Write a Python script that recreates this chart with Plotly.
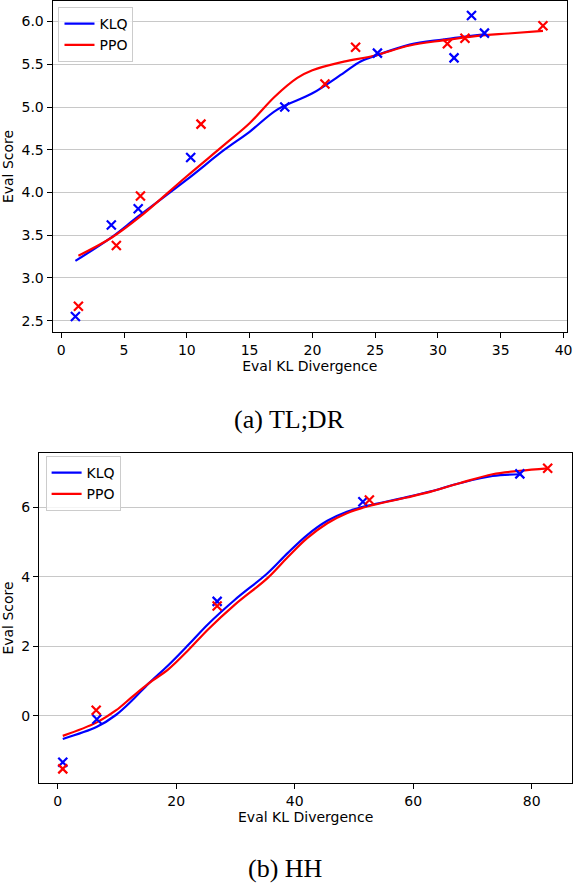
import plotly.graph_objects as go

# (a) TL;DR - evaluation points
tldr_klq_kl = [1.13, 3.99, 6.13, 10.31, 17.8, 25.18, 31.28, 32.67, 33.7]
tldr_klq_score = [2.55, 3.62, 3.81, 4.41, 5.0, 5.63, 5.575, 6.07, 5.864]
tldr_ppo_kl = [1.37, 4.39, 6.31, 11.13, 21.0, 23.44, 30.75, 32.15, 38.36]
tldr_ppo_score = [2.67, 3.38, 3.96, 4.80, 5.27, 5.70, 5.74, 5.805, 5.95]

# (a) TL;DR - fitted curves
tldr_klq_fit_kl = [1.13, 4.0, 6.13, 10.0, 13.0, 15.0, 17.2, 20.0, 22.5, 23.8, 25.2, 27.75, 30.4, 33.7]
tldr_klq_fit = [3.20, 3.475, 3.72, 4.15, 4.50, 4.71, 4.97, 5.16, 5.40, 5.53, 5.61, 5.73, 5.79, 5.85]
tldr_ppo_fit_kl = [1.37, 4.0, 6.3, 10.0, 13.0, 15.0, 17.0, 18.8, 20.0, 22.5, 24.9, 27.75, 30.4, 33.0, 35.6, 38.36]
tldr_ppo_fit = [3.26, 3.47, 3.72, 4.19, 4.56, 4.81, 5.12, 5.34, 5.43, 5.53, 5.60, 5.72, 5.78, 5.83, 5.86, 5.89]

# (b) HH - evaluation points
hh_klq_kl = [0.84, 6.59, 26.9, 51.5, 78.0]
hh_klq_score = [-1.34, -0.10, 3.29, 6.16, 6.96]
hh_ppo_kl = [0.84, 6.48, 26.9, 52.6, 82.7]
hh_ppo_score = [-1.53, 0.155, 3.16, 6.21, 7.12]

# (b) HH - fitted curves
hh_klq_fit_kl = [0.84, 6.6, 9.8, 12.6, 15.35, 18.7, 22.05, 25.4, 29.85, 35.4, 38.8, 42.1, 45.5, 48.8, 52.2, 58.9, 63.0, 67.8, 73.4, 78.0]
hh_klq_fit = [-0.67, -0.32, 0.02, 0.45, 0.93, 1.46, 2.04, 2.64, 3.33, 4.10, 4.68, 5.20, 5.61, 5.87, 6.04, 6.29, 6.46, 6.69, 6.90, 6.95]
hh_ppo_fit_kl = [0.84, 6.5, 9.8, 12.6, 15.35, 18.7, 22.05, 25.4, 29.85, 35.4, 38.8, 42.1, 45.5, 48.8, 52.2, 58.9, 63.0, 67.8, 73.4, 78.0, 82.7]
hh_ppo_fit = [-0.58, -0.2, 0.15, 0.55, 0.93, 1.34, 1.89, 2.49, 3.19, 3.96, 4.56, 5.11, 5.54, 5.83, 6.02, 6.28, 6.45, 6.69, 6.95, 7.05, 7.12]

BLUE = '#0000ff'
RED = '#ff0000'
W, H = 580, 884

fig = go.Figure()

def add_panel(xa, ya, legend, fits, points):
    for (kx, ky), name, color in zip(fits, ["KLQ", "PPO"], [BLUE, RED]):
        fig.add_trace(go.Scatter(
            x=kx, y=ky, mode='lines', name=name,
            line=dict(color=color, width=2.2, shape='spline', smoothing=1.0),
            xaxis=xa, yaxis=ya, legend=legend, hoverinfo='skip'
        ))
    for (px_, py_), color in zip(points, [BLUE, RED]):
        fig.add_trace(go.Scatter(
            x=px_, y=py_, mode='markers', showlegend=False,
            marker=dict(symbol='x-thin', size=9, color=color, line=dict(width=2.2, color=color)),
            xaxis=xa, yaxis=ya
        ))

add_panel('x', 'y', 'legend',
          [(tldr_klq_fit_kl, tldr_klq_fit), (tldr_ppo_fit_kl, tldr_ppo_fit)],
          [(tldr_klq_kl, tldr_klq_score), (tldr_ppo_kl, tldr_ppo_score)])
add_panel('x2', 'y2', 'legend2',
          [(hh_klq_fit_kl, hh_klq_fit), (hh_ppo_fit_kl, hh_ppo_fit)],
          [(hh_klq_kl, hh_klq_score), (hh_ppo_kl, hh_ppo_score)])

tick_font = dict(family='DejaVu Sans', size=14, color='black')
axis_common = dict(
    showline=True, linecolor='black', linewidth=1, mirror=True,
    ticks='outside', ticklen=5, tickcolor='black', tickwidth=1,
    tickfont=tick_font, zeroline=False, ticklabeloverflow='allow',
)

fig.update_layout(
    width=W, height=H,
    margin=dict(l=0, r=0, t=0, b=0),
    paper_bgcolor='white', plot_bgcolor='white',
    font=dict(family='DejaVu Sans', size=14, color='black'),
    xaxis=dict(domain=[53 / W, 572 / W], range=[-0.69, 40.28], dtick=5, tick0=0,
               showgrid=False, anchor='y',
               title=dict(text='Eval KL Divergence', standoff=4, font=tick_font), **axis_common),
    yaxis=dict(domain=[1 - 332 / H, 1 - 1 / H], range=[2.368, 6.24], dtick=0.5, tick0=0,
               tickformat='.1f', showgrid=True, gridcolor='#c8c8c8', gridwidth=1, anchor='x',
               title=dict(text='Eval Score', standoff=5, font=tick_font), **axis_common),
    xaxis2=dict(domain=[39.3 / W, 577.3 / W], range=[-3.18, 86.86], dtick=20, tick0=0,
                showgrid=False, anchor='y2',
                title=dict(text='Eval KL Divergence', standoff=4, font=tick_font), **axis_common),
    yaxis2=dict(domain=[1 - 783.3 / H, 1 - 452.7 / H], range=[-1.946, 7.57], dtick=2, tick0=0,
                showgrid=True, gridcolor='#c8c8c8', gridwidth=1, anchor='x2',
                title=dict(text='Eval Score', standoff=5, font=tick_font), **axis_common),
    legend=dict(x=59 / W, y=1 - 7 / H, xanchor='left', yanchor='top',
                bgcolor='rgba(255,255,255,0.8)', bordercolor='#cccccc', borderwidth=1,
                font=tick_font, tracegroupgap=0),
    legend2=dict(x=46 / W, y=1 - 456 / H, xanchor='left', yanchor='top',
                 bgcolor='rgba(255,255,255,0.8)', bordercolor='#cccccc', borderwidth=1,
                 font=tick_font, tracegroupgap=0),
    showlegend=True,
)

# Sub-figure captions
caption_font = dict(family='Liberation Serif', size=26, color='black')
fig.add_annotation(text='(a) TL;DR', x=292 / W, y=1 - 419 / H, xref='paper', yref='paper',
                   xanchor='center', yanchor='middle', showarrow=False, font=caption_font)
fig.add_annotation(text='(b) HH', x=288 / W, y=0, xref='paper', yref='paper',
                   xanchor='center', yanchor='bottom', showarrow=False, font=caption_font,
                   borderpad=0)

# drop the browser's default 8px body margin so the figure fills the window
fig.write_html("out.html", config={'displayModeBar': False},
               post_script="document.body.style.margin='0';document.body.style.overflow='hidden';")
